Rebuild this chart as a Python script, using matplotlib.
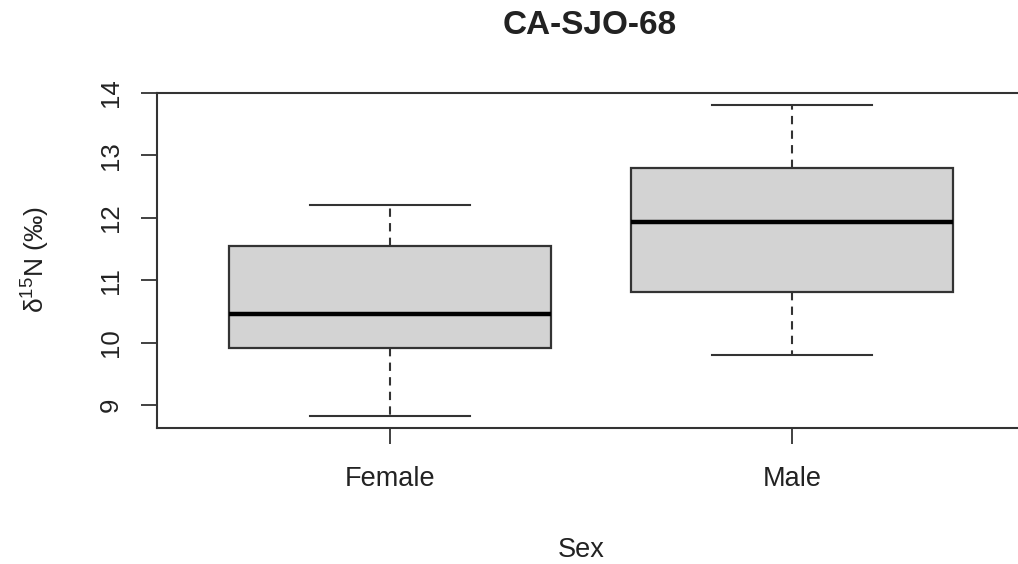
import matplotlib
matplotlib.use("Agg")
import matplotlib.pyplot as plt

# Summary statistics of delta-15N by sex
groups = ["Female", "Male"]
whisker_low = [8.83, 9.80]
quart_1 = [9.92, 10.81]
medians = [10.46, 11.94]
quart_3 = [11.55, 12.80]
whisker_high = [12.20, 13.80]
y_ticks = [9, 10, 11, 12, 13, 14]

plt.rcParams["font.family"] = ["Liberation Sans", "DejaVu Sans"]
plt.rcParams["mathtext.fontset"] = "custom"
plt.rcParams["mathtext.rm"] = "Liberation Sans"
plt.rcParams["mathtext.it"] = "Liberation Sans"
plt.rcParams["mathtext.bf"] = "Liberation Sans:bold"
plt.rcParams["mathtext.default"] = "rm"

TXT = "#222222"
LINE = "#333333"

fig = plt.figure(figsize=(10.18, 5.64), dpi=100)
ax = fig.add_axes([157 / 1018, 1 - 428 / 564, 868 / 1018, 335 / 564])

stats = []
for i, g in enumerate(groups):
    stats.append(dict(label=g, whislo=whisker_low[i], q1=quart_1[i], med=medians[i],
                      q3=quart_3[i], whishi=whisker_high[i], fliers=[]))

ax.bxp(stats, positions=[1, 2], widths=0.8, capwidths=0.4, patch_artist=True,
       showfliers=False,
       boxprops=dict(facecolor="#d3d3d3", edgecolor=LINE, linewidth=1.6),
       medianprops=dict(color="black", linewidth=3.2, solid_capstyle="butt"),
       whiskerprops=dict(color=LINE, linewidth=1.5, linestyle=(0, (4, 3))),
       capprops=dict(color=LINE, linewidth=1.5))

# R-style data range extension of 4 %
lo, hi = min(whisker_low), max(whisker_high)
ext = (hi - lo) * 0.04
ax.set_ylim(lo - ext, hi + ext)
ax.set_xlim(0.5 - 0.08, 2.5 + 0.08)

ax.set_yticks(y_ticks)
ax.set_yticklabels([str(t) for t in y_ticks], rotation=90, va="center")
ax.set_xticks([1, 2])
ax.set_xticklabels(groups)

for s in ax.spines.values():
    s.set_color(LINE)
    s.set_linewidth(1.5)
ax.tick_params(axis="both", direction="out", length=11.5, width=1.3, color=LINE,
               labelcolor=TXT)
ax.tick_params(axis="y", pad=13, labelsize=18.5)
ax.tick_params(axis="x", pad=16, labelsize=19.5)

fig.text(590 / 1018, 1 - 25 / 564, "CA-SJO-68", ha="center", va="center",
         fontsize=24, fontweight="bold", color=TXT)
fig.text(581 / 1018, 1 - 550 / 564, "Sex", ha="center", va="center",
         fontsize=19.5, color=TXT)
fig.text(36 / 1018, 1 - 260 / 564, "δ$^{15}$N (‰)", ha="center", va="center",
         rotation=90, fontsize=19, color=TXT)

fig.savefig("out.png", dpi=100)
